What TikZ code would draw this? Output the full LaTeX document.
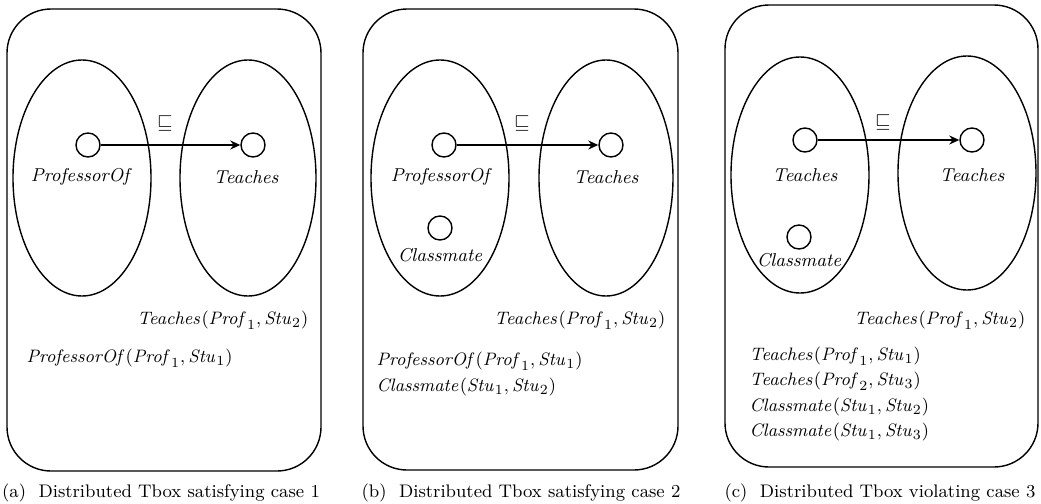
\documentclass[tikz,border=0pt]{standalone}
\usetikzlibrary{arrows.meta}
\newcommand{\indv}[2]{\mathit{#1}_{#2}}
\newcommand{\atom}[3]{$\mathit{#1}(#2, #3)$}
\tikzset{
  role/.style={circle, draw, line width=0.7pt, minimum size=12pt, inner sep=0pt},
  rolename/.style={font=\itshape\fontsize{9.3}{11}\selectfont, inner sep=0pt},
  fact/.style={font=\fontsize{9.4}{11}\selectfont, inner sep=0pt},
  subrole/.style={-{Stealth[length=5pt,width=4.5pt]}, line width=0.7pt},
  caption/.style={font=\fontsize{9.1}{11}\selectfont, inner sep=0pt}
}
\begin{document}
\begin{tikzpicture}[x=0.5pt, y=-0.5pt, line width=0.7pt]
\useasboundingbox (0,0) rectangle (1041,504);
  % (a)
  \draw[rounded corners=22pt] (7,9) rectangle (321,471);
  \draw (82,178) ellipse [x radius=34.5pt, y radius=59pt];
  \draw (248,178) ellipse [x radius=34pt, y radius=59pt];
  \node[role] (a1) at (88,145) {};
  \node[role] (a2) at (253,145) {};
  \draw[subrole] (a1) -- (a2);
  \node (asub) at (165,123) {$\sqsubseteq$};
  \node[rolename] (a1n) at (80,177) {ProfessorOf};
  \node[rolename] (a2n) at (246,177) {Teaches};
  \node[fact, anchor=east] (af1) at (309,320) {\atom{Teaches}{\indv{Prof}{1}}{\indv{Stu}{2}}};
  \node[fact, anchor=west] (af2) at (26,358) {\atom{ProfessorOf}{\indv{Prof}{1}}{\indv{Stu}{1}}};
  \node[caption] (acap) at (161,493) {(a)\ \ Distributed Tbox satisfying case 1};
  % (b)
  \draw[rounded corners=22pt] (363,9) rectangle (678,470);
  \draw (440,178) ellipse [x radius=34.5pt, y radius=59pt];
  \draw (606,178) ellipse [x radius=33.5pt, y radius=59pt];
  \node[role] (b1) at (444,145) {};
  \node[role] (b2) at (611,145) {};
  \node[role] (b3) at (440,228) {};
  \draw[subrole] (b1) -- (b2);
  \node (bsub) at (522,123) {$\sqsubseteq$};
  \node[rolename] (b1n) at (440,177) {ProfessorOf};
  \node[rolename] (b2n) at (606,177) {Teaches};
  \node[rolename] (b3n) at (440,255) {Classmate};
  \node[fact, anchor=east] (bf1) at (666,320) {\atom{Teaches}{\indv{Prof}{1}}{\indv{Stu}{2}}};
  \node[fact, anchor=west] (bf2) at (376,361) {\atom{ProfessorOf}{\indv{Prof}{1}}{\indv{Stu}{1}}};
  \node[fact, anchor=west] (bf3) at (376,387) {\atom{Classmate}{\indv{Stu}{1}}{\indv{Stu}{2}}};
  \node[caption] (bcap) at (521,493) {(b)\ \ Distributed Tbox satisfying case 2};
  % (c)
  \draw[rounded corners=22pt] (725,5) rectangle (1038,467);
  \draw (800,175) ellipse [x radius=34.5pt, y radius=59pt];
  \draw (967,173) ellipse [x radius=34.5pt, y radius=58.5pt];
  \node[role] (c1) at (805,140) {};
  \node[role] (c2) at (972,140) {};
  \node[role] (c3) at (799,237) {};
  \draw[subrole] (c1) -- (c2);
  \node (csub) at (883,122) {$\sqsubseteq$};
  \node[rolename] (c1n) at (805,175) {Teaches};
  \node[rolename] (c2n) at (972,175) {Teaches};
  \node[rolename] (c3n) at (799,260) {Classmate};
  \node[fact, anchor=east] (cf1) at (1026,320) {\atom{Teaches}{\indv{Prof}{1}}{\indv{Stu}{2}}};
  \node[fact, anchor=west] (cf2) at (749,356) {\atom{Teaches}{\indv{Prof}{1}}{\indv{Stu}{1}}};
  \node[fact, anchor=west] (cf3) at (749,381) {\atom{Teaches}{\indv{Prof}{2}}{\indv{Stu}{3}}};
  \node[fact, anchor=west] (cf4) at (749,407) {\atom{Classmate}{\indv{Stu}{1}}{\indv{Stu}{2}}};
  \node[fact, anchor=west] (cf5) at (749,432) {\atom{Classmate}{\indv{Stu}{1}}{\indv{Stu}{3}}};
  \node[caption] (ccap) at (880,493) {(c)\ \ Distributed Tbox violating case 3};
\end{tikzpicture}
\end{document}
